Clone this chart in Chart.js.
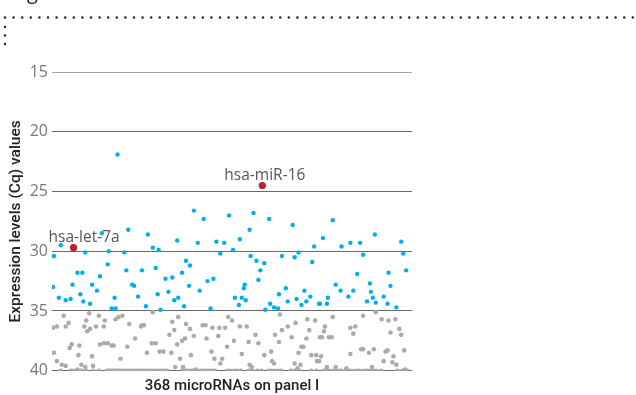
<!DOCTYPE html>
<html>
<head>
<meta charset="utf-8">
<script src="https://cdn.jsdelivr.net/npm/chart.js@4.4.0/dist/chart.umd.min.js"></script>
<style>
  html, body { margin: 0; padding: 0; background: #fff; }
  canvas { display: block; }
</style>
</head>
<body>
<canvas id="myChart" width="636" height="395"></canvas>
<script>
// miRNA index on the panel (x) and Cq value (y)
const detectedIdx = [1,2,7,9,14,19,21,26,29,31,32,34,39,41,46,49,51,57,58,61,64,65,67,74,76,78,82,84,88,92,
  96,98,103,106,108,109,111,116,119,123,125,128,129,133,135,137,140,141,145,149,151,155,159,162,165,168,172,176,181,185,
  187,191,192,194,196,197,198,202,203,206,209,211,213,217,218,222,223,227,231,232,235,239,241,246,248,250,252,255,258,260,
  264,266,268,273,274,277,281,282,287,290,295,296,303,305,308,312,315,318,322,325,326,328,330,331,339,343,344,346,352,357,
  359,362];
const detectedCq = [33.0,30.4,33.9,29.5,34.1,34.0,32.8,31.8,33.6,31.8,34.2,30.1,34.4,32.8,33.3,32.1,28.5,31.1,30.0,34.8,33.9,34.8,21.9,30.1,31.6,28.2,32.8,32.9,33.8,31.6,
  34.6,28.6,29.7,31.4,33.6,29.9,34.9,32.3,33.4,32.2,34.1,29.1,33.9,31.8,34.6,30.8,32.9,31.2,26.6,29.3,33.3,27.3,32.5,34.8,32.3,29.2,30.2,29.3,27.0,29.9,
  33.9,34.5,29.0,33.9,33.1,32.8,34.1,28.2,30.4,26.8,30.8,32.4,31.6,31.0,34.9,27.3,34.4,34.7,34.8,33.6,30.4,33.1,34.2,27.8,30.5,34.0,30.1,34.5,33.3,34.2,
  33.8,30.9,29.6,34.4,34.4,28.9,34.4,33.9,27.4,32.8,33.3,29.6,33.8,29.3,33.3,31.9,29.3,30.3,34.2,32.7,33.4,33.9,28.6,34.3,33.8,34.4,31.8,32.9,34.7,29.2,
  30.2,31.6];

const lateIdx = [1,2,5,5,10,12,14,14,17,18,20,26,27,28,30,33,34,35,36,38,39,41,42,45,48,49,53,53,54,57,61,63,65,68,70,72,77,79,85,91,
  92,94,97,102,103,106,110,114,120,122,123,125,126,128,129,131,133,134,136,137,141,142,145,147,154,157,158,163,164,166,170,171,172,174,177,179,180,
  184,186,192,194,199,201,202,204,208,211,217,224,225,227,228,232,233,235,241,245,248,249,251,252,254,255,257,260,261,263,265,269,270,271,273,274,
  275,276,278,279,281,283,286,287,290,301,305,305,308,310,316,318,318,324,327,329,331,337,339,341,343,344,346,348,349,351,352,355,357,360,361];
const lateCq = [36.4,38.5,36.3,39.2,39.5,35.4,36.3,39.6,36.0,38.1,37.8,39.9,38.7,37.9,39.5,36.3,39.7,35.8,36.7,35.2,36.5,38.8,39.6,36.3,35.4,37.8,36.3,37.7,35.8,37.7,37.9,37.9,35.7,35.5,39.0,35.4,38.0,36.1,37.3,36.3,
  36.2,36.2,38.5,37.7,35.1,37.7,38.4,38.4,37.0,38.5,35.9,36.6,39.7,37.8,35.5,39.0,37.5,39.7,37.3,36.1,36.5,38.7,37.1,39.9,36.2,36.2,37.3,38.4,36.4,39.0,37.1,36.4,39.4,39.0,36.4,38.0,35.5,
  35.8,37.5,36.3,38.6,36.3,37.6,39.5,39.7,37.0,37.7,38.7,38.4,39.2,39.4,37.0,37.6,35.3,36.6,36.3,37.2,39.4,36.0,39.8,38.5,39.5,38.0,38.0,37.3,35.7,36.6,38.7,35.8,38.7,39.2,39.2,37.2,
  38.8,37.2,36.7,36.3,39.7,37.2,37.2,35.5,39.7,39.8,36.4,38.6,36.9,36.3,38.2,35.4,38.2,38.5,39.7,38.2,35.1,35.7,39.2,38.4,38.3,35.8,36.8,39.3,38.8,35.7,39.5,36.5,37.0,38.3,39.9];

// not detected: sits on the Cq 40 cut-off
const cutoffCq = 40;
const undetectedIdx = [9,19,22,30,35,42,48,56,58,59,61,62,64,65,67,68,70,71,74,76,78,80,81,84,86,87,90,92,94,96,97,100,
  102,104,107,110,112,114,116,118,133,136,138,139,142,144,145,149,152,154,156,158,160,163,165,167,179,182,186,189,193,
  201,205,210,214,221,224,227,231,234,244,248,253,265,270,278,280,283,287,291,294,296,300,305,309,312,314,318,321,323,
  327,331,336,353,358,363];

const refNames = ['hsa-let-7a', 'hsa-miR-16'];
const refIdx = [22, 215];
const refCq = [29.7, 24.5];

const yTicks = [15, 20, 25, 30, 35, 40];
const panelSize = 368;

function pts(xs, ys) {
  return xs.map((x, i) => ({ x: x, y: ys[i] }));
}

const lateData = pts(lateIdx, lateCq).concat(undetectedIdx.map(x => ({ x: x, y: cutoffCq })));

const labelPlugin = {
  id: 'refLabels',
  beforeDraw(chart) {
    const c = chart.ctx;
    c.save();
    c.fillStyle = '#222';
    // dotted frame corner at the top of the figure
    for (let x = 5; x < 636; x += 8.6) {
      c.beginPath(); c.arc(x, 17.5, 1.2, 0, Math.PI * 2); c.fill();
    }
    [27, 35.5, 44].forEach(y => {
      c.beginPath(); c.arc(5, y, 1.2, 0, Math.PI * 2); c.fill();
    });
    c.font = '20px "Open Sans"';
    c.textBaseline = 'alphabetic';
    c.fillText('g', 27, -1);
    c.restore();
  },
  afterDatasetsDraw(chart) {
    const c = chart.ctx;
    const meta = chart.getDatasetMeta(2);
    const offsets = [-25, -38];
    c.save();
    c.font = '15.5px "Open Sans"';
    c.fillStyle = '#555';
    c.textAlign = 'left';
    c.textBaseline = 'alphabetic';
    meta.data.forEach((p, i) => {
      c.fillText(refNames[i], p.x + offsets[i], p.y - 6);
    });
    c.restore();
  }
};

new Chart(document.getElementById('myChart'), {
  type: 'scatter',
  data: {
    datasets: [
      {
        label: 'Cq 35-40',
        data: lateData,
        backgroundColor: '#ababab',
        pointRadius: 2.3,
        borderWidth: 0
      },
      {
        label: 'Cq < 35',
        data: pts(detectedIdx, detectedCq),
        backgroundColor: '#00aeef',
        pointRadius: 2.2,
        borderWidth: 0
      },
      {
        label: 'reference',
        data: pts(refIdx, refCq),
        backgroundColor: '#be1e2d',
        pointRadius: 3.6,
        borderWidth: 0
      }
    ]
  },
  options: {
    responsive: false,
    animation: false,
    layout: { padding: { top: 72, right: 224, left: 0, bottom: 0 } },
    plugins: {
      legend: { display: false },
      tooltip: { enabled: false }
    },
    scales: {
      x: {
        type: 'linear',
        min: 0,
        max: panelSize,
        grid: { display: false },
        border: { display: false },
        ticks: { display: false },
        title: {
          display: true,
          text: panelSize + ' microRNAs on panel I',
          color: '#222',
          font: { family: 'Roboto', size: 15, weight: '500' },
          padding: { top: 0, bottom: 0 }
        },
        afterFit(scale) { scale.height = 24.3; }
      },
      y: {
        reverse: true,
        min: 15,
        max: 40,
        afterBuildTicks(scale) { scale.ticks = yTicks.map(v => ({ value: v })); },
        grid: {
          drawTicks: false,
          color: ctx => (ctx.tick && ctx.tick.value === 15) ? '#a5a5a5' : '#6a6a6a',
          lineWidth: 1
        },
        border: { display: false },
        ticks: {
          color: '#777',
          padding: 4,
          font: { family: 'Open Sans', size: 16 }
        },
        title: {
          display: true,
          text: 'Expression levels (Cq) values',
          color: '#222',
          font: { family: 'Roboto', size: 15.5, weight: '500' },
          padding: { top: 7, bottom: 0 }
        },
        afterFit(scale) { scale.width = 52; }
      }
    }
  },
  plugins: [labelPlugin]
});
</script>
</body>
</html>
